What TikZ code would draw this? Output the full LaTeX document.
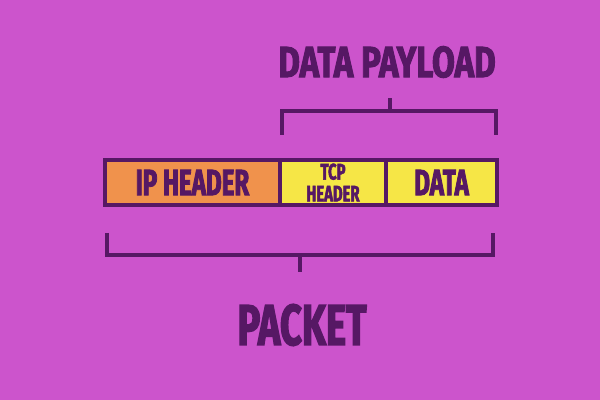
\documentclass[tikz,border=0pt]{standalone}
\usepackage{fontspec}
\usepackage{tikz}
\newfontfamily\labelfont[FakeStretch=0.66, BoldFeatures={FakeBold=2.2}]{Fira Sans}
\newfontfamily\titlefont[FakeStretch=0.76, BoldFeatures={FakeBold=2.2}]{Fira Sans}

\definecolor{bgpink}{RGB}{204,84,204}
\definecolor{inkpurple}{RGB}{86,24,100}
\definecolor{iporange}{RGB}{240,146,76}
\definecolor{tcpyellow}{RGB}{246,230,70}

\tikzset{
  field/.style={draw=inkpurple, line width=2.6pt, minimum height=1.125cm,
    inner sep=0pt, outer sep=0pt, text=inkpurple, anchor=north west,
    font=\labelfont\bfseries\fontsize{26}{26}\selectfont},
  brace/.style={draw=inkpurple, line width=2.6pt},
  caption/.style={text=inkpurple, inner sep=0pt}
}

\begin{document}
\begin{tikzpicture}[x=0.025cm, y=-0.025cm]
        % Background
        \fill[bgpink] (0,0) rectangle (600,400);
        \useasboundingbox (0,0) rectangle (600,400);

        % Packet fields
        \node[field, fill=iporange, minimum width=4.375cm] (ip) at (105,160) {IP HEADER};
        \node[field, fill=tcpyellow, minimum width=2.65cm, align=center,
              font=\labelfont\bfseries\fontsize{16}{15.6}\selectfont] (tcp) at (ip.north east) {TCP\\HEADER};
        \node[field, fill=tcpyellow, minimum width=2.775cm] (data) at (tcp.north east) {DATA};

        % Data payload bracket
        \coordinate (payL) at (282,135);
        \coordinate (payR) at (496,135);
        \coordinate (payM) at (390,111);
        \draw[brace] (payL) |- (payM) -| (payR);
        \draw[brace] (payM) -- (390,98);
        \node[caption, font=\titlefont\bfseries\fontsize{31}{31}\selectfont] (payload) at (387,62) {DATA PAYLOAD};

        % Packet bracket
        \coordinate (pktL) at (107,233);
        \coordinate (pktR) at (493,233);
        \coordinate (pktM) at (300,255);
        \draw[brace] (pktL) |- (pktM) -| (pktR);
        \draw[brace] (pktM) -- (300,272);
        \node[caption, font=\labelfont\bfseries\fontsize{41}{41}\selectfont] (packet) at (302,325) {PACKET};
    \end{tikzpicture}
\end{document}
